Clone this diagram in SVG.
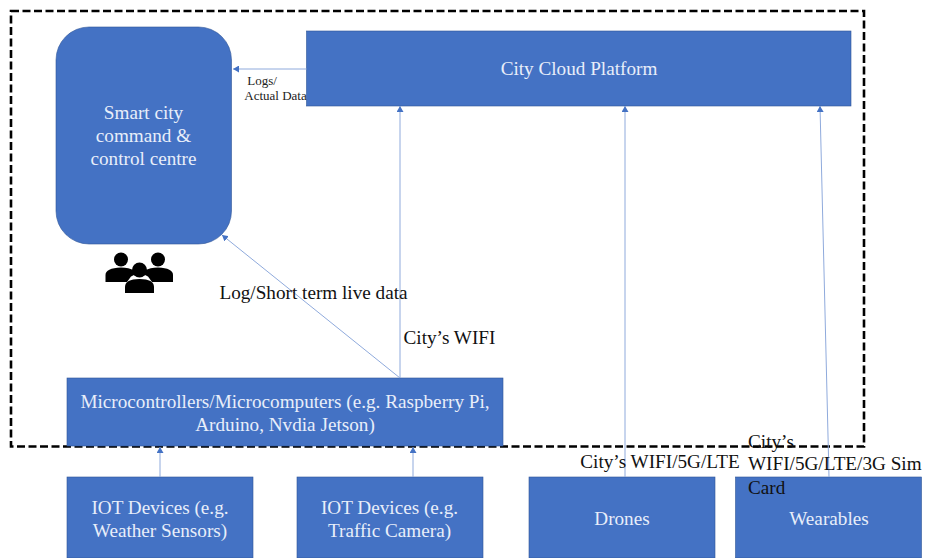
<svg xmlns="http://www.w3.org/2000/svg" width="925" height="558" viewBox="0 0 925 558">
<defs>
<marker id="arr" markerUnits="userSpaceOnUse" markerWidth="7" markerHeight="7" refX="6" refY="3.500" orient="auto"><path d="M0 0L6 3.500L0 7Z" fill="#4472c4"/></marker>
</defs>
<style>
text{font-family:"Liberation Serif","Times New Roman",serif;text-anchor:middle}
.n{fill:#4472c4;stroke:#2f5597;stroke-width:.6}
.w{fill:#e8eefa;font-size:19.2px}
.b{fill:#111;font-size:19.2px}
.l{text-anchor:start}
.s{fill:#222;font-size:13px}
.c{fill:none;stroke:#8faadc;stroke-width:1;marker-end:url(#arr)}
</style>
<rect width="925" height="558" fill="#fff"/>
<rect id="boundary" x="11" y="11" width="853" height="435.500" fill="none" stroke="#000" stroke-width="2.600" stroke-dasharray="8 3.500"/>
<g id="command-centre"><rect class="n" x="56" y="27" width="175.500" height="217" rx="33"/><text class="w" x="143.500" y="119">Smart city</text><text class="w" x="143.500" y="142">command &amp;</text><text class="w" x="143.500" y="165">control centre</text></g>
<g id="cloud"><rect class="n" x="306.500" y="31" width="544.500" height="75"/><text class="w" x="579" y="75">City Cloud Platform</text></g>
<g id="micro"><rect class="n" x="67" y="378" width="436" height="68"/><text class="w" x="285" y="408">Microcontrollers/Microcomputers (e.g. Raspberry Pi,</text><text class="w" x="285" y="431">Arduino, Nvdia Jetson)</text></g>
<g id="iot-weather"><rect class="n" x="67" y="477" width="186" height="81"/><text class="w" x="160" y="514">IOT Devices (e.g.</text><text class="w" x="160" y="537">Weather Sensors)</text></g>
<g id="iot-camera"><rect class="n" x="297" y="477" width="186" height="81"/><text class="w" x="389.500" y="514">IOT Devices (e.g.</text><text class="w" x="389.500" y="537">Traffic Camera)</text></g>
<g id="drones"><rect class="n" x="529" y="477" width="186" height="81"/><text class="w" x="622" y="525">Drones</text></g>
<g id="wearables"><rect class="n" x="735.500" y="477" width="186" height="81"/><text class="w" x="829" y="525">Wearables</text></g>
<g id="people" fill="#000">
<circle cx="121" cy="259.500" r="7"/><circle cx="158" cy="259.500" r="7"/>
<path d="M105.500 282v-7q0-7 15.500-7.500q8 0 13 3l3 3-6 3-4 5.500z"/><path d="M173 282v-7q0-7-15-7.500q-8 0-13 3l-3 3 6 3 4 5.500z"/>
<circle cx="139.500" cy="270" r="7.500"/><path d="M125 293v-6q0-8 14.500-8t14.500 8v6z"/>
</g>
<g id="connectors">
<path class="c" d="M306.500 69H233"/>
<path class="c" d="M400 378V106"/>
<path class="c" d="M400 378L222 235"/>
<path class="c" d="M625 477V106"/>
<path class="c" d="M829 477L820 106"/>
<path class="c" d="M160 477V447"/>
<path class="c" d="M413 477V447"/>
</g>
<g id="labels">
<text class="s" x="262" y="85">Logs/</text><text class="s" x="275.500" y="100">Actual Data</text>
<text class="b" x="313.500" y="299">Log/Short term live data</text>
<text class="b" x="449.500" y="344">City’s WIFI</text>
<text class="b" x="660" y="468">City’s WIFI/5G/LTE</text>
<text class="b l" x="748" y="448">City’s</text>
<text class="b l" x="748" y="470">WIFI/5G/LTE/3G Sim</text>
<text class="b l" x="748" y="494">Card</text>
</g>
</svg>
